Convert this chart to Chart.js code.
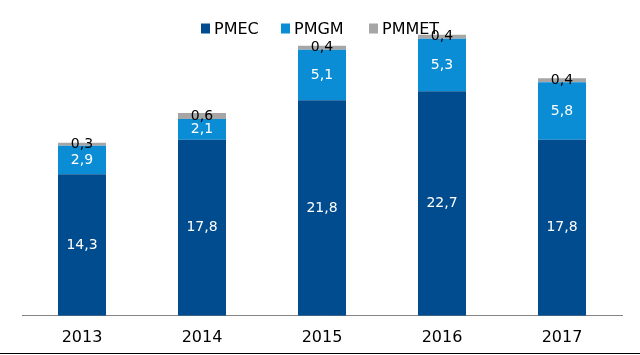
<!DOCTYPE html>
<html>
<head>
<meta charset="utf-8">
<script src="https://cdn.jsdelivr.net/npm/chart.js@4/dist/chart.umd.min.js"></script>
<style>
html,body{margin:0;padding:0;background:#fff;}
#wrap{width:640px;height:355px;position:relative;}
</style>
</head>
<body>
<div id="wrap"><canvas id="c" width="640" height="355"></canvas></div>
<script>
const categories = ['2013','2014','2015','2016','2017'];
const pmec  = [14.3, 17.8, 21.8, 22.7, 17.8];
const pmgm  = [2.9, 2.1, 5.1, 5.3, 5.8];
const pmmet = [0.3, 0.6, 0.4, 0.4, 0.4];
const seriesNames = ['PMEC','PMGM','PMMET'];
const seriesColors = ['#004C8F','#0A8DD5','#A6A6A6'];
const labelColors = ['#ffffff','#ffffff','#000000'];

const FONT = '"DejaVu Sans", Verdana, sans-serif';

const valueLabels = {
  id: 'valueLabels',
  afterDatasetsDraw(chart) {
    const ctx = chart.ctx;
    ctx.save();
    ctx.font = '14px ' + FONT;
    ctx.textAlign = 'center';
    ctx.textBaseline = 'middle';
    chart.data.datasets.forEach((ds, di) => {
      const meta = chart.getDatasetMeta(di);
      meta.data.forEach((bar, i) => {
        const v = ds.data[i];
        const yc = (bar.y + bar.base) / 2;
        ctx.fillStyle = labelColors[di];
        ctx.fillText(v.toFixed(1).replace('.', ','), bar.x, yc);
      });
    });
    ctx.restore();
  }
};

const topLegend = {
  id: 'topLegend',
  afterDraw(chart) {
    const ctx = chart.ctx;
    ctx.save();
    ctx.font = '16px ' + FONT;
    ctx.textBaseline = 'middle';
    ctx.textAlign = 'left';
    const xs = [201, 281, 369];
    const y = 28.5;
    seriesNames.forEach((n, i) => {
      ctx.fillStyle = seriesColors[i];
      ctx.fillRect(xs[i], y - 5, 9, 10);
      ctx.fillStyle = '#000';
      ctx.fillText(n, xs[i] + 13, y + 1);
    });
    // bottom border line
    ctx.fillStyle = '#000';
    ctx.fillRect(0, 353, 640, 1);
    ctx.restore();
  }
};

const data = {
  labels: categories,
  datasets: [
    { label: seriesNames[0], data: pmec, backgroundColor: seriesColors[0] },
    { label: seriesNames[1], data: pmgm, backgroundColor: seriesColors[1] },
    { label: seriesNames[2], data: pmmet, backgroundColor: seriesColors[2] }
  ]
};

new Chart(document.getElementById('c'), {
  type: 'bar',
  data: data,
  options: {
    responsive: false,
    animation: false,
    devicePixelRatio: 1,
    layout: { padding: { top: 19, left: 22, right: 18, bottom: 4 } },
    datasets: { bar: { categoryPercentage: 1, barPercentage: 0.4, borderWidth: 0 } },
    plugins: { legend: { display: false }, tooltip: { enabled: false } },
    scales: {
      x: {
        stacked: true,
        grid: { display: false },
        border: { display: true, color: '#868686', width: 1 },
        ticks: { color: '#000', font: { family: FONT, size: 16 }, padding: 4 }
      },
      y: {
        stacked: true,
        display: false,
        min: 0,
        max: 30
      }
    }
  },
  plugins: [valueLabels, topLegend]
});
</script>
</body>
</html>
